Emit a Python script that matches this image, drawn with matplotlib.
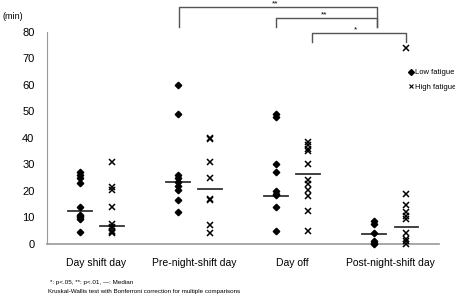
import numpy as np
import matplotlib.pyplot as plt

plt.rcParams["font.family"] = ["Liberation Sans", "DejaVu Sans"]

# ---------------- DATA ----------------
categories = ["Day shift day", "Pre-night-shift day", "Day off", "Post-night-shift day"]

low_fatigue = [
    [27, 26, 25, 23, 14, 11, 10.5, 10, 9.5, 4.5],
    [60, 49, 26, 25, 23.5, 22, 20.5, 16.5, 12],
    [49, 48, 30, 27, 20, 19, 18.5, 14, 5],
    [8.5, 7.5, 4, 1, 0.5, 0],
]
high_fatigue = [
    [31, 21.5, 20.5, 14, 7.5, 6.5, 6, 5, 4.5, 4],
    [40, 39.5, 31, 25, 17, 16.5, 7, 4],
    [38.5, 37.5, 36, 35, 30, 24, 22.5, 20.5, 18, 12.5, 5],
    [74, 19, 14.5, 12, 10.5, 9.5, 4, 2, 1, 0],
]
low_median = [12.3, 23.5, 18, 3.7]
high_median = [6.6, 20.8, 26.3, 6.5]

# significance brackets: (x start, x end, level, legs bottom, label)
brackets = [
    (0.85, 2.87, 89.4, 82, "**"),
    (1.84, 2.87, 85.3, 82, "**"),
    (2.20, 3.16, 79.6, 76.2, "*"),
]

# ---------------- PLOT ----------------
fig = plt.figure(figsize=(4.56, 2.96), dpi=100)
ax = fig.add_axes([0.103, 0.176, 0.860, 0.716])

x = np.arange(len(categories))
off = 0.165
half = 0.12

for i in x:
    ax.plot([i - off] * len(low_fatigue[i]), low_fatigue[i], "D", color="black",
            markersize=3.3, linestyle="none", clip_on=False, zorder=3)
    ax.plot([i + off] * len(high_fatigue[i]), high_fatigue[i], "x", color="black",
            markersize=4.2, markeredgewidth=1.1, linestyle="none", clip_on=False, zorder=3)
    ax.plot([i - off - half, i - off + half], [low_median[i]] * 2, color="#333333", lw=1.3)
    ax.plot([i + off - half, i + off + half], [high_median[i]] * 2, color="#333333", lw=1.3)

for x0, x1, lvl, bot, lab in brackets:
    ax.plot([x0, x0, x1, x1], [bot, lvl, lvl, bot], color="#555555", lw=1.0, clip_on=False)
    ax.text((x0 + x1) / 2 - 0.03, lvl + 1.3, lab, ha="center", va="center", fontsize=6)

ax.set_xlim(-0.5, 3.5)
ax.set_ylim(0, 80)
ax.set_yticks(range(0, 81, 10))
ax.set_xticks(x)
ax.set_xticklabels(categories, fontsize=7.5)
ax.tick_params(axis="y", length=0, labelsize=8, pad=9)
ax.tick_params(axis="x", length=0, pad=10)
for s in ["top", "right"]:
    ax.spines[s].set_visible(False)
ax.spines["left"].set_color("#999999")
ax.spines["bottom"].set_color("#999999")
ax.spines["bottom"].set_linewidth(1.2)

# legend
ax.plot([], [], "D", color="black", markersize=3, label="Low fatigue")
ax.plot([], [], "x", color="black", markersize=3, markeredgewidth=0.8, label="High fatigue")
ax.legend(loc="upper left", bbox_to_anchor=(0.915, 0.84), frameon=False, fontsize=5.5,
          handlelength=0.6, handletextpad=0.2, labelspacing=0.9, borderaxespad=0)

fig.text(0.005, 0.945, "(min)", fontsize=6.5, va="center")
fig.text(0.11, 0.045, "*: p<.05, **: p<.01, \u2014: Median", fontsize=4.5, va="center")
fig.text(0.105, 0.015, "Kruskal-Wallis test with Bonferroni correction for multiple comparisons",
         fontsize=4.5, va="center")

fig.savefig("out.png", dpi=100)
